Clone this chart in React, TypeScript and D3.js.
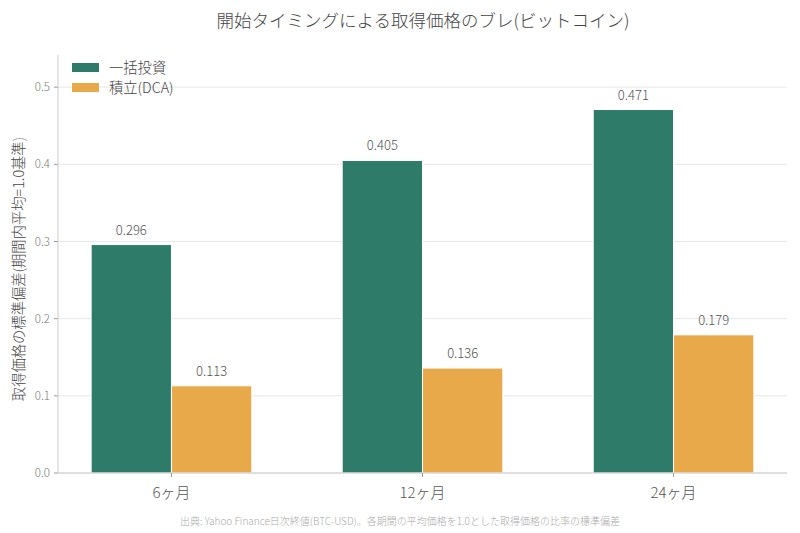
import React from "react";
import * as d3 from "d3";

const categories = ["6ヶ月", "12ヶ月", "24ヶ月"];
const lumpSum = [0.296, 0.405, 0.471];
const dca = [0.113, 0.136, 0.179];
const seriesNames = ["一括投資", "積立(DCA)"];
const yTicks = [0.0, 0.1, 0.2, 0.3, 0.4, 0.5];
const title = "開始タイミングによる取得価格のブレ(ビットコイン)";
const yLabel = "取得価格の標準偏差(期間内平均=1.0基準)";
const footer = "出典: Yahoo Finance日次終値(BTC-USD)。各期間の平均価格を1.0とした取得価格の比率の標準偏差";

const colors = ["#2e7b6a", "#e8a94b"];
const FONT = "'Noto Sans CJK JP', 'Noto Sans', sans-serif";

export default function App() {
  const W = 800, H = 533;
  const left = 58, right = 787, top = 55, bottom = 473;
  const barW = 0.32;
  const x = d3.scaleLinear().domain([-0.452, categories.length - 1 + 0.452]).range([left, right]);
  const ymax = d3.max(lumpSum.concat(dca))! * 1.15;
  const y = d3.scaleLinear().domain([0, ymax]).range([bottom, top]);
  const series = [lumpSum, dca];
  const fmt = d3.format(".3f");

  return (
    <svg width={W} height={H} style={{ position: "absolute", left: 0, top: 0, background: "#fff" }} fontFamily={FONT}>
      <text x={423} y={27} textAnchor="middle" fontSize={17.5} fill="#444" fontWeight={300}>{title}</text>
      {yTicks.map((t) => (
        <g key={t}>
          <line x1={left} x2={right} y1={y(t)} y2={y(t)} stroke="#e8e8e8" strokeWidth={1} />
          <line x1={left - 4} x2={left} y1={y(t)} y2={y(t)} stroke="#999" />
          <text x={left - 8} y={y(t)} dy="0.35em" textAnchor="end" fontSize={11.5} fill="#777" fontWeight={300}>{t.toFixed(1)}</text>
        </g>
      ))}
      {series.map((vals, si) =>
        vals.map((v, i) => {
          const x0 = x(i + (si === 0 ? -barW : 0));
          const x1 = x(i + (si === 0 ? 0 : barW));
          return (
            <g key={si + "-" + i}>
              <rect x={x0} y={y(v)} width={x1 - x0} height={bottom - y(v)} fill={colors[si]} stroke="#fff" strokeWidth={1} />
              <text x={(x0 + x1) / 2} y={y(v) - 10} textAnchor="middle" fontSize={13} fill="#555" fontWeight={300}>{fmt(v)}</text>
            </g>
          );
        })
      )}
      <line x1={left} x2={left} y1={top} y2={bottom} stroke="#ccc" />
      <line x1={left} x2={right} y1={bottom} y2={bottom} stroke="#ccc" />
      {categories.map((c, i) => (
        <g key={c}>
          <line x1={x(i)} x2={x(i)} y1={bottom} y2={bottom + 4} stroke="#999" />
          <text x={x(i)} y={bottom + 25} textAnchor="middle" fontSize={15} fill="#555" fontWeight={300}>{c}</text>
        </g>
      ))}
      <text transform={`translate(24, ${(top + bottom) / 2 + 5}) rotate(-90)`} textAnchor="middle" fontSize={14.3} fill="#444" fontWeight={300}>{yLabel}</text>
      {seriesNames.map((n, i) => (
        <g key={n}>
          <rect x={72} y={63 + i * 20} width={27} height={9} fill={colors[i]} />
          <text x={109} y={68 + i * 20} dy="0.35em" fontSize={14.3} fill="#444" fontWeight={300}>{n}</text>
        </g>
      ))}
      <text x={400} y={525} textAnchor="middle" fontSize={10} fill="#aaa" fontWeight={300}>{footer}</text>
    </svg>
  );
}
